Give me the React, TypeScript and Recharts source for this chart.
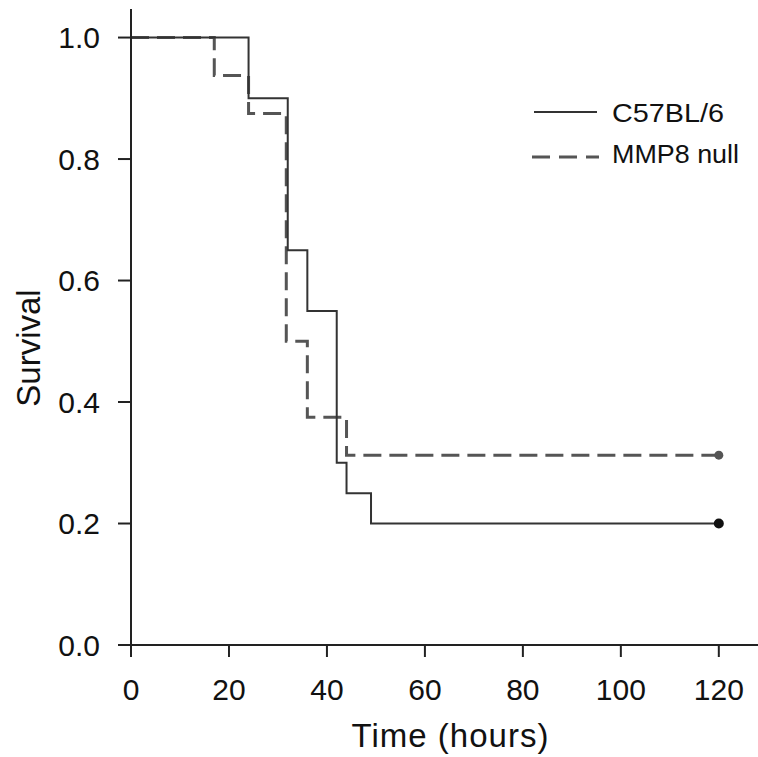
import React from "react";
import { LineChart, Line, XAxis, YAxis, Legend, Label } from "recharts";

// Kaplan-Meier steps
const wildTypeTimes = [0, 24, 32, 36, 42, 44, 49, 120];
const wildTypeSurvival = [1.0, 0.9, 0.65, 0.55, 0.3, 0.25, 0.2, 0.2];

const nullTimes = [0, 17, 24, 31.7, 36, 44, 120];
const nullSurvival = [1.0, 0.9375, 0.875, 0.5, 0.375, 0.3125, 0.3125];

const xTicks = [0, 20, 40, 60, 80, 100, 120];
const yTicks = [0, 0.2, 0.4, 0.6, 0.8, 1.0];

const seriesNames = ["C57BL/6", "MMP8 null"];

const wildType = wildTypeTimes.map((t, i) => ({ time: t, survival: wildTypeSurvival[i] }));
const mmp8Null = nullTimes.map((t, i) => ({ time: t, survival: nullSurvival[i] }));

const FONT = "'Liberation Sans', Arial, sans-serif";
const LAST_TIME = 120;

function endDot(color: string, r: number) {
  return (props: any) => {
    const { cx, cy, payload, index } = props;
    if (payload.time !== LAST_TIME) return <g key={index} />;
    return <circle key={index} cx={cx} cy={cy} r={r} fill={color} stroke="none" />;
  };
}

function LegendBox() {
  return (
    <div style={{ position: "relative", width: 758, height: 200, fontFamily: FONT }}>
      <svg width={758} height={200} style={{ position: "absolute", left: 0, top: 0 }}>
        <line x1={534} x2={597} y1={112} y2={112} stroke="#333" strokeWidth={2} />
        <line x1={532} x2={599} y1={157} y2={157} stroke="#555" strokeWidth={3} strokeDasharray="18 9" />
        <text x={612} y={122} fontSize={25} fill="#111" textLength={112} lengthAdjust="spacingAndGlyphs">
          {seriesNames[0]}
        </text>
        <text x={612} y={163} fontSize={25} fill="#111" textLength={127} lengthAdjust="spacingAndGlyphs">
          {seriesNames[1]}
        </text>
      </svg>
    </div>
  );
}

export default function App() {
  return (
    <div style={{ position: "absolute", left: 0, top: 0, width: 758, height: 757, background: "#fff" }}>
      <LineChart width={758} height={757} margin={{ top: 9, right: 0, bottom: 0, left: 0 }} style={{ fontFamily: FONT }}>
        <XAxis
          type="number"
          dataKey="time"
          domain={[0, 128]}
          ticks={xTicks}
          allowDataOverflow
          height={112}
          tickSize={12}
          tickMargin={22}
          axisLine={{ stroke: "#222", strokeWidth: 2 }}
          tickLine={{ stroke: "#222", strokeWidth: 2 }}
          tick={{ fill: "#111", fontSize: 30, fontFamily: FONT }}
        >
          <Label
            value="Time (hours)"
            position="insideBottom"
            offset={10}
            dx={6}
            style={{ fontSize: 33, fill: "#111", fontFamily: FONT, letterSpacing: 1 }}
          />
        </XAxis>
        <YAxis
          type="number"
          domain={[0, 1.047]}
          ticks={yTicks}
          allowDataOverflow
          width={131}
          tickSize={13}
          tickMargin={18}
          tickFormatter={(v: number) => v.toFixed(1)}
          axisLine={{ stroke: "#222", strokeWidth: 2 }}
          tickLine={{ stroke: "#222", strokeWidth: 2 }}
          tick={{ fill: "#111", fontSize: 30, fontFamily: FONT }}
        >
          <Label
            value="Survival"
            angle={-90}
            position="insideLeft"
            offset={28}
            dy={21}
            style={{ fontSize: 33, fill: "#111", fontFamily: FONT, textAnchor: "middle" }}
          />
        </YAxis>
        <Legend
          layout="vertical"
          align="center"
          verticalAlign="middle"
          wrapperStyle={{ position: "absolute", left: 0, top: 0, width: 758, height: 200 }}
          content={() => <LegendBox />}
        />
        <Line
          data={mmp8Null}
          dataKey="survival"
          name={seriesNames[1]}
          type="stepAfter"
          stroke="#555"
          strokeWidth={3}
          strokeDasharray="18 8"
          dot={endDot("#555", 4.5)}
          activeDot={false}
          isAnimationActive={false}
        />
        <Line
          data={wildType}
          dataKey="survival"
          name={seriesNames[0]}
          type="stepAfter"
          stroke="#333"
          strokeWidth={2}
          dot={endDot("#111", 5)}
          activeDot={false}
          isAnimationActive={false}
        />
      </LineChart>
    </div>
  );
}
